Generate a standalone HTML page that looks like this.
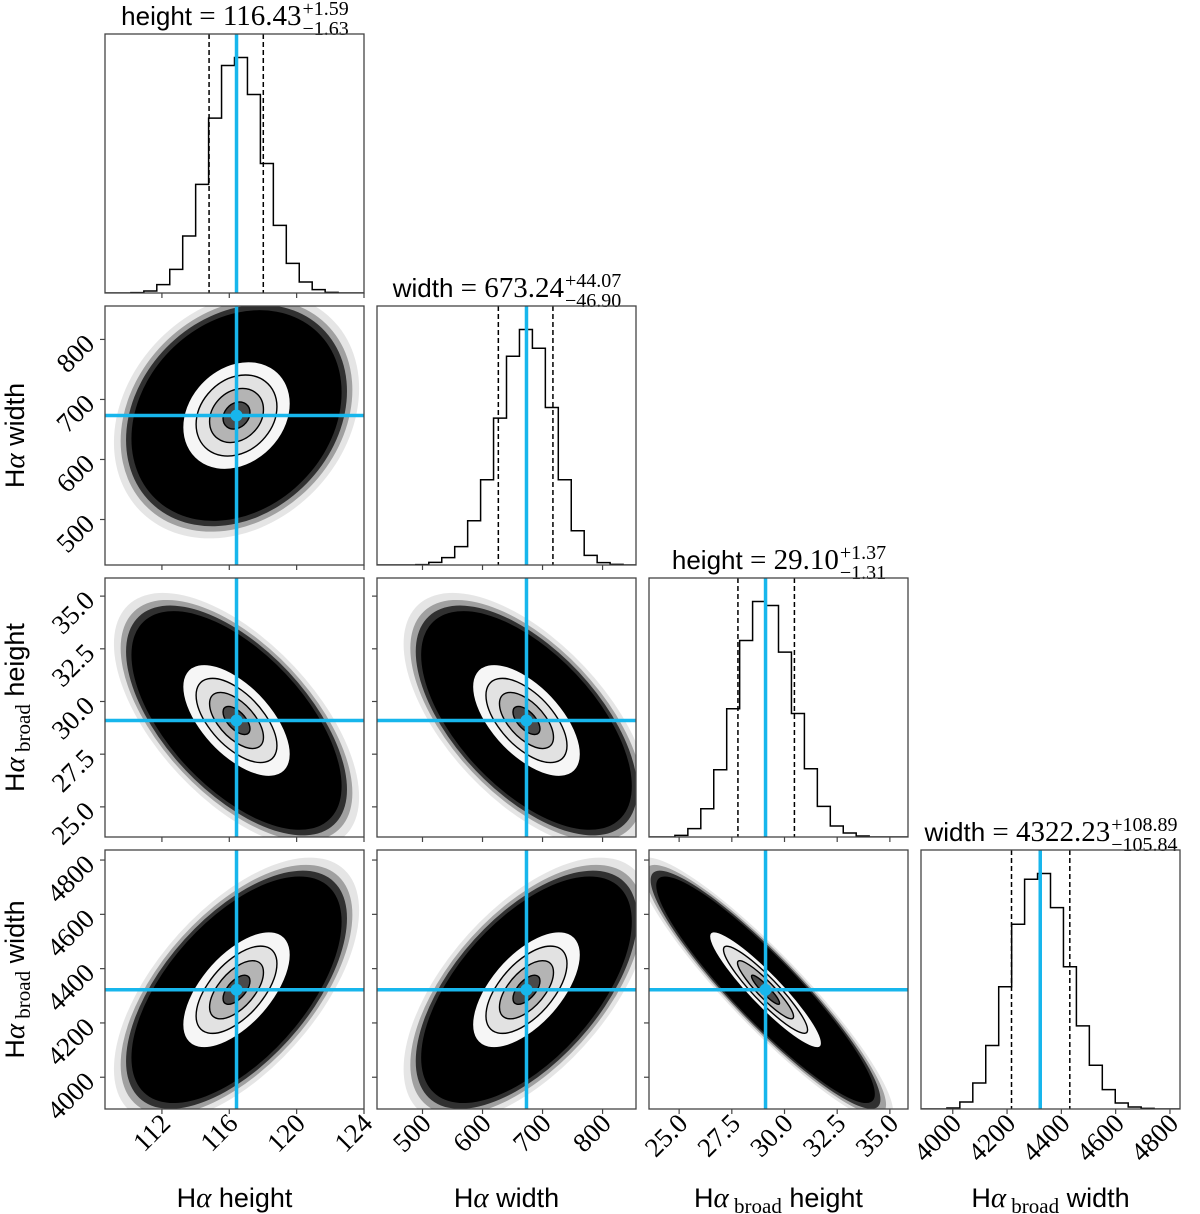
<!DOCTYPE html>
<html><head><meta charset="utf-8"><style>
html,body{margin:0;padding:0;background:#fff;}
svg{display:block;}
.sans{font-family:"Liberation Sans",sans-serif;}
.serif{font-family:"Liberation Serif",serif;}
</style></head><body>
<svg id="chart" width="1200" height="1214" viewBox="0 0 1200 1214" xmlns="http://www.w3.org/2000/svg"></svg>
<script>
// ---- data ----
const paramNames = ["height", "width", "height", "width"];
const paramLabels = ["height", "width", "height", "width"];
const paramBroad = [false, false, true, true];
const rangeLo = [108.62, 424.2, 23.57, 3883];
const rangeHi = [124.0, 855.7, 35.86, 4837];
const truths = [116.43, 673.24, 29.10, 4322.23];
const qLow = [114.80, 626.34, 27.79, 4216.39];
const qHigh = [118.02, 717.31, 30.47, 4431.12];
const errPlus = ["1.59", "44.07", "1.37", "108.89"];
const errMinus = ["1.63", "46.90", "1.31", "105.84"];
const medianText = ["116.43", "673.24", "29.10", "4322.23"];
const hist0 = [0,0,1,6,25,71,171,326,525,683,707,596,389,203,89,33,10,2,0,0];
const hist1 = [0,0,0,1,8,22,55,133,256,441,627,707,651,473,256,103,29,7,2,0];
const hist2 = [0,0,5,25,85,202,385,590,707,695,555,371,205,92,33,12,3,0,0,0];
const hist3 = [0,0,3,21,78,190,366,553,688,705,603,426,249,131,58,18,6,2,0,0];
const hists = [hist0, hist1, hist2, hist3];
const sigmas = [1.6, 45, 1.33, 107];
// correlation for pair (row i, col j)
const corrPairs = [[1,0,0.22],[2,0,-0.6],[2,1,-0.6],[3,0,0.6],[3,1,0.6],[3,2,-0.92]];
const ticks0 = [112,116,120,124];
const ticks1 = [500,600,700,800];
const ticks2 = [25.0,27.5,30.0,32.5,35.0];
const ticks3 = [4000,4200,4400,4600,4800];
const tickSets = [ticks0, ticks1, ticks2, ticks3];
const tickLabels0 = ["112","116","120","124"];
const tickLabels1 = ["500","600","700","800"];
const tickLabels2 = ["25.0","27.5","30.0","32.5","35.0"];
const tickLabels3 = ["4000","4200","4400","4600","4800"];
const tickLabelSets = [tickLabels0, tickLabels1, tickLabels2, tickLabels3];

// ---- layout ----
const NS = "http://www.w3.org/2000/svg";
const svg = document.getElementById("chart");
const lefts = [105,377,649,921], tops = [34,306,578,850], SZ = 259;
const BLUE = "#17b6ec";
function sx(j, v){ return lefts[j] + (v - rangeLo[j]) / (rangeHi[j] - rangeLo[j]) * SZ; }
function sy(row, i, v){ return tops[row] + SZ - (v - rangeLo[i]) / (rangeHi[i] - rangeLo[i]) * SZ; }
function mk(tag, attrs, parent){
  const e = document.createElementNS(NS, tag);
  for (const k in attrs) e.setAttribute(k, attrs[k]);
  (parent || svg).appendChild(e);
  return e;
}
const defs = mk("defs", {});
for (let r = 0; r < 4; r++) for (let c = 0; c <= r; c++) {
  const cp = mk("clipPath", {id: "clip"+r+c}, defs);
  mk("rect", {x: lefts[c], y: tops[r], width: SZ, height: SZ}, cp);
}

// ---- diagonal histograms ----
for (let k = 0; k < 4; k++) {
  const g = mk("g", {"clip-path": "url(#clip"+k+k+")"});
  
  
  const h = hists[k];
  const ymax = Math.max(...h) * 1.1;
  const bw = (rangeHi[k] - rangeLo[k]) / h.length;
  const bottom = tops[k] + SZ;
  let d = "M" + sx(k, rangeLo[k]) + "," + bottom;
  for (let b = 0; b < h.length; b++) {
    const y = bottom - h[b] / ymax * SZ;
    d += " L" + sx(k, rangeLo[k] + b*bw) + "," + y + " L" + sx(k, rangeLo[k] + (b+1)*bw) + "," + y;
  }
  d += " L" + sx(k, rangeHi[k]) + "," + bottom;
  const p = mk("path", {d: d, fill: "none", stroke: "#000", "stroke-width": 1.5}, g);
  
  
  [qLow[k], qHigh[k]].forEach((q, qi) => {
    const l = mk("line", {x1: sx(k,q), x2: sx(k,q), y1: tops[k], y2: bottom, stroke: "#000", "stroke-width": 1.5, "stroke-dasharray": "5,3"}, g);
    
    
  });
  const t = mk("line", {x1: sx(k,truths[k]), x2: sx(k,truths[k]), y1: tops[k], y2: bottom, stroke: BLUE, "stroke-width": 3.5}, g);
  
  

  // title
  const tt = mk("text", {x: 0, y: tops[k] - 9, "font-size": 26});
  
  
  const t1 = mk("tspan", {class: "sans"}, tt); t1.textContent = paramNames[k] + " ";
  const t2 = mk("tspan", {class: "serif", "font-size": 29}, tt); t2.textContent = "= " + medianText[k];
  const sup = mk("text", {class: "serif", "font-size": 20, y: tops[k] - 19});
  sup.textContent = "+" + errPlus[k];
  
  
  const sub = mk("text", {class: "serif", "font-size": 20, y: tops[k] + 1});
  sub.textContent = "\u2212" + errMinus[k];
  
  
  const mw = tt.getComputedTextLength();
  const ew = Math.max(sup.getComputedTextLength(), sub.getComputedTextLength());
  const x0 = lefts[k] + SZ/2 - (mw + ew)/2;
  tt.setAttribute("x", x0);
  sup.setAttribute("x", x0 + mw + 1);
  sub.setAttribute("x", x0 + mw + 1);
}

// ---- 2D panels ----
const fills = [[2.0,"#f6f6f6"],[1.5,"#e2e2e2"],[1.0,"#b4b4b4"],[0.5,"#4a4a4a"]];
corrPairs.forEach(([r, c, rho]) => {
  const g = mk("g", {"clip-path": "url(#clip"+r+c+")"});
  
  
  const cx = sx(c, truths[c]), cy = sy(r, r, truths[r]);
  const a = sigmas[c] / (rangeHi[c]-rangeLo[c]) * SZ;
  const syp = -sigmas[r] / (rangeHi[r]-rangeLo[r]) * SZ;
  const b = rho * syp, cc = syp * Math.sqrt(1 - rho*rho);
  const tr = "matrix(" + a + "," + b + ",0," + cc + "," + cx + "," + cy + ")";
  const cloud = [[4.55,0.1],[4.3,0.3],[4.1,0.7],[3.9,1]];
  cloud.forEach(([rad, op]) => {
    const e = mk("circle", {cx: 0, cy: 0, r: rad, fill: "#000", "fill-opacity": op, transform: tr}, g);
    
    
  });
  fills.forEach(([rad, col]) => {
    const e = mk("circle", {cx: 0, cy: 0, r: rad, fill: col, stroke: "#000", "stroke-width": 1.4, "vector-effect": "non-scaling-stroke", transform: tr}, g);
    
    
  });
  const v = mk("line", {x1: cx, x2: cx, y1: tops[r], y2: tops[r]+SZ, stroke: BLUE, "stroke-width": 3.5}, g);
  
  
  const hz = mk("line", {x1: lefts[c], x2: lefts[c]+SZ, y1: cy, y2: cy, stroke: BLUE, "stroke-width": 3.5}, g);
  
  
  const m = mk("circle", {cx: cx, cy: cy, r: 6, fill: BLUE}, g);
  
  
  // y ticks
  tickSets[r].forEach((tv, ti) => {
    const y = sy(r, r, tv);
    mk("line", {x1: lefts[c]-5, x2: lefts[c], y1: y, y2: y, stroke: "#444", "stroke-width": 1.2});
    if (c === 0) {
      const lt = mk("text", {class: "serif", "font-size": 27, "text-anchor": "end", transform: "translate(" + (lefts[0]-9) + "," + (y+6) + ") rotate(-45)"});
      lt.textContent = tickLabelSets[r][ti];
      
      
    }
  });
});

// ---- frames and x ticks ----
for (let r = 0; r < 4; r++) for (let c = 0; c <= r; c++) {
  const f = mk("rect", {x: lefts[c], y: tops[r], width: SZ, height: SZ, fill: "none", stroke: "#444", "stroke-width": 1.3});
  
  
  tickSets[c].forEach((tv, ti) => {
    const x = sx(c, tv);
    mk("line", {x1: x, x2: x, y1: tops[r]+SZ, y2: tops[r]+SZ+5, stroke: "#444", "stroke-width": 1.2});
    if (r === 3) {
      const lt = mk("text", {class: "serif", "font-size": 27, "text-anchor": "end", transform: "translate(" + (x+10) + "," + (tops[3]+SZ+16) + ") rotate(-45)"});
      lt.textContent = tickLabelSets[c][ti];
      
      
    }
  });
}

// ---- axis titles ----
function axisLabel(k, attrs, name){
  const t = mk("text", Object.assign({"font-size": 27, "text-anchor": "middle"}, attrs));
  
  
  const a = mk("tspan", {class: "sans"}, t); a.textContent = "H";
  const b = mk("tspan", {class: "serif", "font-style": "italic", "font-size": 29}, t); b.textContent = "\u03b1";
  if (paramBroad[k]) {
    const s = mk("tspan", {class: "serif", "font-size": 21, dy: 6}, t); s.textContent = " broad";
    const w = mk("tspan", {class: "sans", dy: -6}, t); w.textContent = " " + paramLabels[k];
  } else {
    const w = mk("tspan", {class: "sans"}, t); w.textContent = " " + paramLabels[k];
  }
}
for (let k = 0; k < 4; k++) axisLabel(k, {x: lefts[k] + SZ/2, y: 1207}, "x-axis-title-" + k);
for (let k = 1; k < 4; k++) axisLabel(k, {transform: "translate(24," + (tops[k] + SZ/2) + ") rotate(-90)"}, "y-axis-title-" + k);
</script>
</body></html>
